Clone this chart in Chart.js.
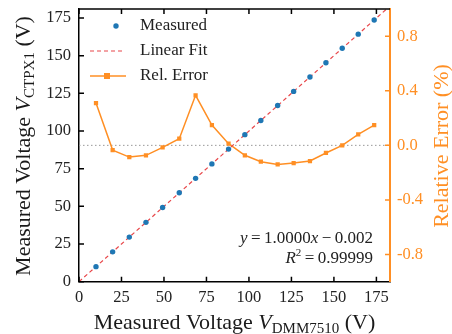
<!DOCTYPE html>
<html>
<head>
<meta charset="utf-8">
<script src="https://cdn.jsdelivr.net/npm/chart.js@4"></script>
<style>
  html, body { margin: 0; padding: 0; background: #fff; }
  #wrap { width: 452px; height: 334px; position: relative; }
</style>
</head>
<body>
<div id="wrap"><canvas id="chart" width="452" height="334"></canvas></div>
<script>
// readings of the two meters (V) and the relative error between them (%)
const dmmVoltage = [10, 19.8, 29.6, 39.4, 49.2, 59, 68.6, 78.2, 88, 97.6, 107, 116.9, 126.3, 135.9, 145.3, 154.9, 164.3, 173.7];
const ctpxVoltage = [10, 19.8, 29.6, 39.4, 49.2, 59, 68.6, 78.2, 88, 97.6, 107, 116.9, 126.3, 135.9, 145.3, 154.9, 164.3, 173.7];
const relError = [0.31, -0.035, -0.086, -0.073, -0.015, 0.049, 0.367, 0.149, 0.012, -0.073, -0.12, -0.14, -0.13, -0.115, -0.056, 0.0, 0.08, 0.149];

// linear fit y = slope * x + intercept
const fitSlope = 1.0;
const fitIntercept = -0.002;
const fitRange = [0, 183];

const xTicks = [0, 25, 50, 75, 100, 125, 150, 175];
const yTicks = [0, 25, 50, 75, 100, 125, 150, 175];
const errTicks = [-0.8, -0.4, 0, 0.4, 0.8];

const BLUE = "#1f77b4";
const RED = "#e8474a";
const ORANGE = "#ff8f24";
const SERIF = "'Liberation Serif', 'Times New Roman', serif";

const tickFont = { family: SERIF, size: 16.5 };

function fixTicks(values) {
  return (scale) => {
    scale.ticks = values.map((v) => ({ value: v }));
  };
}

function fixSize(prop, size) {
  return (scale) => {
    scale[prop] = size;
    scale.paddingTop = 0;
    scale.paddingBottom = 0;
    scale.paddingLeft = 0;
    scale.paddingRight = 0;
  };
}

// draws a run of text pieces (normal / italic / subscript) starting at x
function drawPieces(ctx, pieces, x, y) {
  let cx = x;
  for (const p of pieces) {
    ctx.font = p.font;
    ctx.fillText(p.text, cx, y + (p.dy || 0));
    cx += ctx.measureText(p.text).width;
  }
  return cx;
}

function piecesWidth(ctx, pieces) {
  let w = 0;
  for (const p of pieces) {
    ctx.font = p.font;
    w += ctx.measureText(p.text).width;
  }
  return w;
}

function titlePieces(sub) {
  return [
    { text: "Measured Voltage ", font: `22px ${SERIF}` },
    { text: "V", font: `italic 22px ${SERIF}` },
    { text: sub, font: `15px ${SERIF}`, dy: 4 },
    { text: " (V)", font: `22px ${SERIF}` },
  ];
}

const decorations = {
  id: "decorations",
  afterDraw(chart) {
    const { ctx, chartArea: a, scales } = chart;
    const x = scales.x, y = scales.y, y1 = scales.y1;
    ctx.save();

    // top frame line
    ctx.strokeStyle = "#000";
    ctx.lineWidth = 1.5;
    ctx.beginPath();
    ctx.moveTo(a.left, a.top);
    ctx.lineTo(a.right, a.top);
    ctx.stroke();

    // inward tick marks
    const len = 5;
    ctx.beginPath();
    for (const v of xTicks) {
      const px = x.getPixelForValue(v);
      ctx.moveTo(px, a.bottom);
      ctx.lineTo(px, a.bottom - len);
      ctx.moveTo(px, a.top);
      ctx.lineTo(px, a.top + len);
    }
    for (const v of yTicks) {
      const py = y.getPixelForValue(v);
      ctx.moveTo(a.left, py);
      ctx.lineTo(a.left + len, py);
    }
    ctx.stroke();
    ctx.strokeStyle = ORANGE;
    ctx.beginPath();
    for (const v of errTicks) {
      const py = y1.getPixelForValue(v);
      ctx.moveTo(a.right, py);
      ctx.lineTo(a.right - len, py);
    }
    ctx.stroke();

    // legend
    ctx.textBaseline = "middle";
    ctx.textAlign = "left";
    ctx.font = `17px ${SERIF}`;
    const lx = a.left + 11, lw = 34, tx = a.left + 61;
    const rows = [a.top + 17, a.top + 42, a.top + 67];

    ctx.fillStyle = BLUE;
    ctx.beginPath();
    ctx.arc(a.left + 37, rows[0], 2.7, 0, Math.PI * 2);
    ctx.fill();

    ctx.strokeStyle = RED;
    ctx.lineWidth = 1.2;
    ctx.setLineDash([4, 3]);
    ctx.beginPath();
    ctx.moveTo(lx, rows[1]);
    ctx.lineTo(lx + lw, rows[1]);
    ctx.stroke();
    ctx.setLineDash([]);

    ctx.strokeStyle = ORANGE;
    ctx.lineWidth = 1.5;
    ctx.beginPath();
    ctx.moveTo(lx, rows[2]);
    ctx.lineTo(lx + lw + 2, rows[2]);
    ctx.stroke();
    ctx.fillStyle = ORANGE;
    ctx.fillRect(a.left + 28 - 3, rows[2] - 3, 6, 6);

    ctx.fillStyle = "#222";
    ctx.fillText("Measured", tx, rows[0]);
    ctx.fillText("Linear Fit", tx, rows[1]);
    ctx.fillText("Rel. Error", tx, rows[2]);

    // fit equation
    const eq = [
      { text: "y", font: `italic 17px ${SERIF}` },
      { text: "\u2009=\u20091.0000", font: `17px ${SERIF}` },
      { text: "x", font: `italic 17px ${SERIF}` },
      { text: "\u2009\u2212\u2009" + Math.abs(fitIntercept).toFixed(3), font: `17px ${SERIF}` },
    ];
    const r2 = [
      { text: "R", font: `italic 17px ${SERIF}` },
      { text: "2", font: `11px ${SERIF}`, dy: -6 },
      { text: "\u2009=\u20090.99999", font: `17px ${SERIF}` },
    ];
    const ex = a.right - 17;
    drawPieces(ctx, eq, ex - piecesWidth(ctx, eq), 239);
    drawPieces(ctx, r2, ex - piecesWidth(ctx, r2), 259);

    // axis titles
    ctx.textBaseline = "alphabetic";
    ctx.fillStyle = "#1a1a1a";
    const xt = titlePieces("DMM7510");
    const cx = (a.left + a.right) / 2;
    drawPieces(ctx, xt, cx - piecesWidth(ctx, xt) / 2, 329);

    const yt = titlePieces("CTPX1");
    ctx.save();
    ctx.translate(30, 146);
    ctx.rotate(-Math.PI / 2);
    drawPieces(ctx, yt, -piecesWidth(ctx, yt) / 2, 0);
    ctx.restore();

    ctx.save();
    ctx.fillStyle = ORANGE;
    ctx.font = `22px ${SERIF}`;
    ctx.textAlign = "center";
    ctx.translate(448, 146);
    ctx.rotate(-Math.PI / 2);
    ctx.fillText("Relative Error (%)", 0, 0);
    ctx.restore();

    ctx.restore();
  },
};

new Chart(document.getElementById("chart"), {
  type: "scatter",
  data: {
    datasets: [
      {
        label: "Measured",
        data: dmmVoltage.map((v, i) => ({ x: v, y: ctpxVoltage[i] })),
        backgroundColor: BLUE,
        borderColor: BLUE,
        pointRadius: 2.7,
        pointBorderWidth: 0,
        yAxisID: "y",
      },
      {
        label: "Linear Fit",
        data: fitRange.map((v) => ({ x: v, y: fitSlope * v + fitIntercept })),
        showLine: true,
        borderColor: RED,
        borderWidth: 1.2,
        borderDash: [4, 3],
        pointRadius: 0,
        yAxisID: "y",
      },
      {
        label: "Rel. Error",
        data: dmmVoltage.map((v, i) => ({ x: v, y: relError[i] })),
        showLine: true,
        borderColor: ORANGE,
        backgroundColor: ORANGE,
        borderWidth: 1.5,
        pointStyle: "rect",
        pointRadius: 3,
        pointBorderWidth: 0,
        yAxisID: "y1",
      },
      {
        label: "zero",
        data: fitRange.map((v) => ({ x: v, y: 0 })),
        showLine: true,
        borderColor: "#999",
        borderWidth: 1,
        borderDash: [1.5, 2.5],
        pointRadius: 0,
        yAxisID: "y1",
      },
    ],
  },
  options: {
    responsive: false,
    animation: false,
    events: [],
    layout: { padding: { top: 9, left: 0, right: 0, bottom: 0 } },
    plugins: { legend: { display: false }, tooltip: { enabled: false } },
    scales: {
      x: {
        type: "linear",
        min: 0,
        max: 183,
        afterBuildTicks: fixTicks(xTicks),
        afterFit: fixSize("height", 52.3),
        grid: { display: false, drawTicks: false },
        border: { display: true, color: "#000", width: 1.5 },
        ticks: { font: tickFont, color: "#222", padding: 6, maxRotation: 0 },
      },
      y: {
        position: "left",
        min: 0,
        max: 181,
        afterBuildTicks: fixTicks(yTicks),
        afterFit: fixSize("width", 79),
        grid: { display: false, drawTicks: false },
        border: { display: true, color: "#000", width: 1.5 },
        ticks: { font: tickFont, color: "#222", padding: 8 },
      },
      y1: {
        position: "right",
        min: -1,
        max: 1,
        afterBuildTicks: fixTicks(errTicks),
        afterFit: fixSize("width", 62),
        grid: { display: false, drawTicks: false },
        border: { display: true, color: ORANGE, width: 2 },
        ticks: {
          font: tickFont,
          color: ORANGE,
          padding: 7,
          callback: (v) => Number(v).toFixed(1),
        },
      },
    },
  },
  plugins: [decorations],
});
</script>
</body>
</html>
